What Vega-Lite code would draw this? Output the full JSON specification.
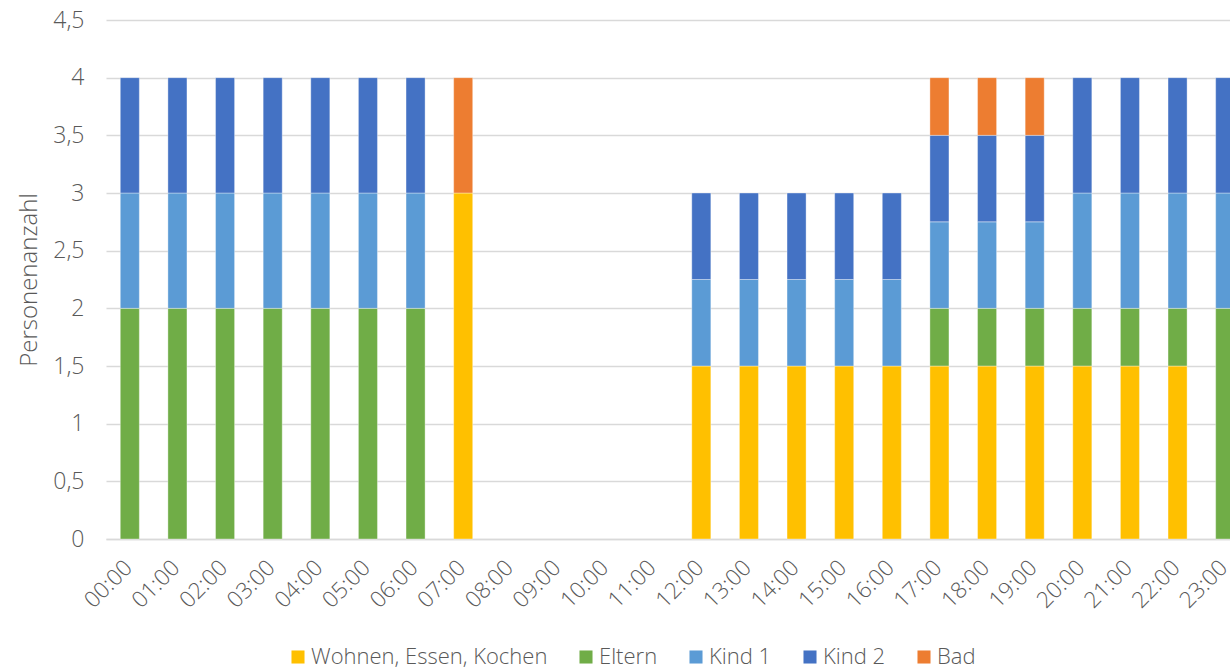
{
  "$schema": "https://vega.github.io/schema/vega-lite/v6.json",
  "width": 1143,
  "height": 519,
  "autosize": {"type": "none"},
  "padding": {"left": 106, "top": 20, "right": 0, "bottom": 132},
  "background": "white",
  "config": {
    "view": {"stroke": null},
    "font": "Open Sans",
    "axis": {"labelColor": "#595959", "titleColor": "#595959", "labelFont": "Open Sans", "titleFont": "Open Sans", "labelFontWeight": 300, "titleFontWeight": 300},
    "legend": {"labelColor": "#595959", "labelFont": "Open Sans", "labelFontWeight": 300}
  },
  "datasets": {
    "belegung": [
      {"zeit": "00:00", "raum": "Eltern", "n": 2, "o": 2}, {"zeit": "00:00", "raum": "Kind 1", "n": 1, "o": 3}, {"zeit": "00:00", "raum": "Kind 2", "n": 1, "o": 4},
      {"zeit": "01:00", "raum": "Eltern", "n": 2, "o": 2}, {"zeit": "01:00", "raum": "Kind 1", "n": 1, "o": 3}, {"zeit": "01:00", "raum": "Kind 2", "n": 1, "o": 4},
      {"zeit": "02:00", "raum": "Eltern", "n": 2, "o": 2}, {"zeit": "02:00", "raum": "Kind 1", "n": 1, "o": 3}, {"zeit": "02:00", "raum": "Kind 2", "n": 1, "o": 4},
      {"zeit": "03:00", "raum": "Eltern", "n": 2, "o": 2}, {"zeit": "03:00", "raum": "Kind 1", "n": 1, "o": 3}, {"zeit": "03:00", "raum": "Kind 2", "n": 1, "o": 4},
      {"zeit": "04:00", "raum": "Eltern", "n": 2, "o": 2}, {"zeit": "04:00", "raum": "Kind 1", "n": 1, "o": 3}, {"zeit": "04:00", "raum": "Kind 2", "n": 1, "o": 4},
      {"zeit": "05:00", "raum": "Eltern", "n": 2, "o": 2}, {"zeit": "05:00", "raum": "Kind 1", "n": 1, "o": 3}, {"zeit": "05:00", "raum": "Kind 2", "n": 1, "o": 4},
      {"zeit": "06:00", "raum": "Eltern", "n": 2, "o": 2}, {"zeit": "06:00", "raum": "Kind 1", "n": 1, "o": 3}, {"zeit": "06:00", "raum": "Kind 2", "n": 1, "o": 4},
      {"zeit": "07:00", "raum": "Wohnen, Essen, Kochen", "n": 3, "o": 1}, {"zeit": "07:00", "raum": "Bad", "n": 1, "o": 5},
      {"zeit": "12:00", "raum": "Wohnen, Essen, Kochen", "n": 1.5, "o": 1}, {"zeit": "12:00", "raum": "Kind 1", "n": 0.75, "o": 3}, {"zeit": "12:00", "raum": "Kind 2", "n": 0.75, "o": 4},
      {"zeit": "13:00", "raum": "Wohnen, Essen, Kochen", "n": 1.5, "o": 1}, {"zeit": "13:00", "raum": "Kind 1", "n": 0.75, "o": 3}, {"zeit": "13:00", "raum": "Kind 2", "n": 0.75, "o": 4},
      {"zeit": "14:00", "raum": "Wohnen, Essen, Kochen", "n": 1.5, "o": 1}, {"zeit": "14:00", "raum": "Kind 1", "n": 0.75, "o": 3}, {"zeit": "14:00", "raum": "Kind 2", "n": 0.75, "o": 4},
      {"zeit": "15:00", "raum": "Wohnen, Essen, Kochen", "n": 1.5, "o": 1}, {"zeit": "15:00", "raum": "Kind 1", "n": 0.75, "o": 3}, {"zeit": "15:00", "raum": "Kind 2", "n": 0.75, "o": 4},
      {"zeit": "16:00", "raum": "Wohnen, Essen, Kochen", "n": 1.5, "o": 1}, {"zeit": "16:00", "raum": "Kind 1", "n": 0.75, "o": 3}, {"zeit": "16:00", "raum": "Kind 2", "n": 0.75, "o": 4},
      {"zeit": "17:00", "raum": "Wohnen, Essen, Kochen", "n": 1.5, "o": 1}, {"zeit": "17:00", "raum": "Eltern", "n": 0.5, "o": 2}, {"zeit": "17:00", "raum": "Kind 1", "n": 0.75, "o": 3}, {"zeit": "17:00", "raum": "Kind 2", "n": 0.75, "o": 4}, {"zeit": "17:00", "raum": "Bad", "n": 0.5, "o": 5},
      {"zeit": "18:00", "raum": "Wohnen, Essen, Kochen", "n": 1.5, "o": 1}, {"zeit": "18:00", "raum": "Eltern", "n": 0.5, "o": 2}, {"zeit": "18:00", "raum": "Kind 1", "n": 0.75, "o": 3}, {"zeit": "18:00", "raum": "Kind 2", "n": 0.75, "o": 4}, {"zeit": "18:00", "raum": "Bad", "n": 0.5, "o": 5},
      {"zeit": "19:00", "raum": "Wohnen, Essen, Kochen", "n": 1.5, "o": 1}, {"zeit": "19:00", "raum": "Eltern", "n": 0.5, "o": 2}, {"zeit": "19:00", "raum": "Kind 1", "n": 0.75, "o": 3}, {"zeit": "19:00", "raum": "Kind 2", "n": 0.75, "o": 4}, {"zeit": "19:00", "raum": "Bad", "n": 0.5, "o": 5},
      {"zeit": "20:00", "raum": "Wohnen, Essen, Kochen", "n": 1.5, "o": 1}, {"zeit": "20:00", "raum": "Eltern", "n": 0.5, "o": 2}, {"zeit": "20:00", "raum": "Kind 1", "n": 1, "o": 3}, {"zeit": "20:00", "raum": "Kind 2", "n": 1, "o": 4},
      {"zeit": "21:00", "raum": "Wohnen, Essen, Kochen", "n": 1.5, "o": 1}, {"zeit": "21:00", "raum": "Eltern", "n": 0.5, "o": 2}, {"zeit": "21:00", "raum": "Kind 1", "n": 1, "o": 3}, {"zeit": "21:00", "raum": "Kind 2", "n": 1, "o": 4},
      {"zeit": "22:00", "raum": "Wohnen, Essen, Kochen", "n": 1.5, "o": 1}, {"zeit": "22:00", "raum": "Eltern", "n": 0.5, "o": 2}, {"zeit": "22:00", "raum": "Kind 1", "n": 1, "o": 3}, {"zeit": "22:00", "raum": "Kind 2", "n": 1, "o": 4},
      {"zeit": "23:00", "raum": "Eltern", "n": 2, "o": 2}, {"zeit": "23:00", "raum": "Kind 1", "n": 1, "o": 3}, {"zeit": "23:00", "raum": "Kind 2", "n": 1, "o": 4}
    ]
  },
  "data": {"name": "belegung"},
  "mark": {"type": "bar", "stroke": "white", "strokeWidth": 0.8, "strokeOpacity": 0.45},
  "encoding": {
    "x": {
      "field": "zeit",
      "type": "nominal",
      "scale": {
        "domain": ["00:00","01:00","02:00","03:00","04:00","05:00","06:00","07:00","08:00","09:00","10:00","11:00","12:00","13:00","14:00","15:00","16:00","17:00","18:00","19:00","20:00","21:00","22:00","23:00"],
        "paddingInner": 0.6,
        "paddingOuter": 0.3
      },
      "axis": {
        "title": null,
        "labelAngle": -45,
        "labelFontSize": 22.5,
        "labelPadding": 17,
        "labelOffset": -9,
        "labelOverlap": false,
        "labelBound": false,
        "ticks": false,
        "domainColor": "#d9d9d9",
        "domainWidth": 1.5,
        "grid": false
      }
    },
    "y": {
      "field": "n",
      "type": "quantitative",
      "stack": "zero",
      "scale": {"domain": [0, 4.5], "nice": false},
      "axis": {
        "title": "Personenanzahl",
        "titleFontSize": 24,
        "titlePadding": 11,
        "values": [0, 0.5, 1, 1.5, 2, 2.5, 3, 3.5, 4, 4.5],
        "labelExpr": "replace(format(datum.value, ''), '.', ',')",
        "labelFontSize": 23,
        "labelPadding": 22,
        "ticks": false,
        "domain": false,
        "gridColor": "#d9d9d9",
        "gridWidth": 1.5
      }
    },
    "color": {
      "field": "raum",
      "type": "nominal",
      "scale": {
        "domain": ["Wohnen, Essen, Kochen", "Eltern", "Kind 1", "Kind 2", "Bad"],
        "range": ["#FFC000", "#70AD47", "#5B9BD5", "#4472C4", "#ED7D31"]
      },
      "legend": {
        "title": null,
        "orient": "none",
        "direction": "horizontal",
        "legendX": 181,
        "legendY": 626,
        "symbolType": "square",
        "symbolSize": 170,
        "symbolStrokeWidth": 0,
        "labelFontSize": 22,
        "labelLimit": 500,
        "labelOffset": 2,
        "columnPadding": 27,
        "symbolOpacity": 1
      }
    },
    "order": {"field": "o", "type": "quantitative"}
  }
}
